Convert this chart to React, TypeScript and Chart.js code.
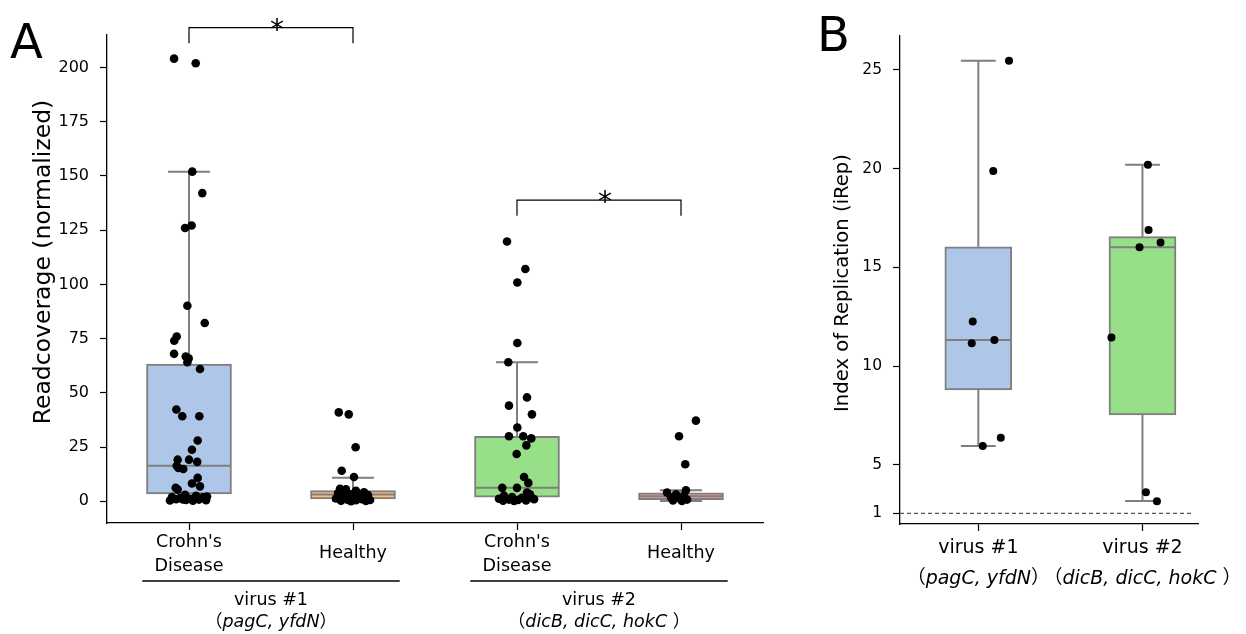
import React, { useEffect, useRef } from 'react';
import { Chart, registerables } from 'chart.js';

Chart.register(...registerables);

const FONT = '"DejaVu Sans", "Noto Sans CJK JP", sans-serif';
const EDGE = '#7f7f7f';

// ================= Panel A data =================
const catLabelsA = [["Crohn's", 'Disease'], ['Healthy'], ["Crohn's", 'Disease'], ['Healthy']];
const groupNamesA = ['virus #1', 'virus #2'];
const groupGenesA = ['pagC, yfdN', 'dicB, dicC, hokC '];
const groupSpansA = [[0, 1], [2, 3]];
const yTicksA = [0, 25, 50, 75, 100, 125, 150, 175, 200];

const whiskerLowA = [0.3, 0.1, 0.2, 0.2];
const q1A = [3.4, 1.1, 1.9, 0.8];
const medianA = [16.4, 3.1, 6.2, 2.3];
const q3A = [63.3, 4.9, 30, 3.9];
const whiskerHighA = [152, 10.9, 64.1, 5.1];

const cd1Values = [204.1, 202, 152, 142.1, 127.2, 126, 90.2, 82.2, 76, 74, 68, 66.8, 65.9, 64.1, 61, 42.3, 39.2, 39.2, 28, 23.8, 19.2, 19.2, 18.2, 16.4, 15.4, 14.9, 10.8, 8.2, 6.9, 6.2, 5.4, 3.0, 2.5, 2.0, 1.8, 1.5, 1.2, 1.0, 0.8, 0.6, 0.5, 0.4, 0.3, 0.9, 2.2];
const cd1Jitter = [-0.091, 0.041, 0.02, 0.081, 0.016, -0.024, -0.01, 0.096, -0.075, -0.09, -0.091, -0.02, -0.002, -0.01, 0.067, -0.077, -0.041, 0.063, 0.053, 0.018, -0.069, 0, 0.05, -0.075, -0.065, -0.035, 0.053, 0.018, 0.067, -0.081, -0.069, -0.024, 0.043, -0.104, 0.085, -0.055, 0.012, -0.079, 0.061, -0.018, 0.104, -0.116, 0.024, -0.037, 0.11];

const h1Values = [41.0, 40.1, 24.9, 14.1, 11.2, 5.8, 5.5, 4.8, 4.2, 3.8, 3.2, 2.9, 2.4, 2.0, 1.7, 1.3, 1.0, 0.8, 0.5, 0.3, 0.2, 0.1, 0.6];
const h1Jitter = [-0.087, -0.026, 0.016, -0.069, 0.006, -0.079, -0.043, 0.018, 0.067, -0.091, -0.018, 0.091, -0.061, 0.037, -0.006, -0.104, 0.055, -0.037, 0.018, -0.073, 0.079, -0.012, 0.104];

const cd2Values = [119.8, 107.1, 100.9, 73, 64.1, 47.9, 44.1, 40.1, 34, 30, 30, 29, 25.8, 21.8, 11.2, 8.5, 6.2, 6.2, 4.0, 3.2, 2.6, 2.0, 1.6, 1.2, 1.0, 0.8, 0.6, 0.4, 0.3, 0.2];
const cd2Jitter = [-0.061, 0.051, 0.002, 0.002, -0.053, 0.061, -0.049, 0.091, 0.002, -0.049, 0.038, 0.087, 0.057, -0.002, 0.043, 0.069, -0.09, 0, 0.061, 0.079, -0.079, -0.03, 0.03, -0.11, 0.104, -0.049, 0.006, 0.055, -0.085, -0.018];

const h2Values = [37.2, 30, 17.1, 5.1, 4.0, 3.2, 2.5, 1.8, 1.2, 0.8, 0.4, 0.2];
const h2Jitter = [0.091, -0.012, 0.026, 0.03, -0.085, -0.03, 0.018, -0.061, -0.006, 0.037, -0.049, 0.006];

const sigLeftA = [0, 2];
const sigRightA = [1, 3];
const sigHeightA = [218.4, 138.9];
const sigDropA = 7.2;
const sigLabelA = ['*', '*'];

// ================= Panel B data =================
const catLabelsB = ['virus #1', 'virus #2'];
const genesB = ['pagC, yfdN', 'dicB, dicC, hokC '];
const yTickValuesB = [2.55, 5, 10, 15, 20, 25];
const yTickLabelsB = ['1', '5', '10', '15', '20', '25'];
const baselineB = 2.55;

const whiskerLowB = [5.96, 3.18];
const q1B = [8.8, 7.53];
const medianB = [11.33, 16.02];
const q3B = [16.05, 16.56];
const whiskerHighB = [25.47, 20.2];

const v1IRep = [25.47, 19.89, 12.26, 11.16, 11.33, 5.96, 6.38];
const v1IRepJitter = [0.187, 0.091, -0.034, -0.04, 0.098, 0.027, 0.137];
const v2IRep = [20.2, 16.9, 16.26, 16.02, 11.45, 3.62, 3.16];
const v2IRepJitter = [0.033, 0.037, 0.11, -0.018, -0.189, 0.021, 0.088];

// ================= styles =================
const boxColorsA = ['#aec7e8', '#ffbb78', '#98df8a', '#ff9896'];
const boxColorsB = ['#aec7e8', '#98df8a'];

function boxLines(lo: number[], q1: number[], med: number[], q3: number[], hi: number[], boxHalf: number, capHalf: number) {
  const pts: any[] = [];
  lo.forEach((_, i) => {
    pts.push(
      { x: i, y: q3[i] }, { x: i, y: hi[i] }, { x: i, y: null },
      { x: i - capHalf, y: hi[i] }, { x: i + capHalf, y: hi[i] }, { x: i, y: null },
      { x: i, y: q1[i] }, { x: i, y: lo[i] }, { x: i, y: null },
      { x: i - capHalf, y: lo[i] }, { x: i + capHalf, y: lo[i] }, { x: i, y: null },
      { x: i - boxHalf, y: med[i] }, { x: i + boxHalf, y: med[i] }, { x: i, y: null },
    );
  });
  return pts;
}

function jittered(index: number, values: number[], jitter: number[]) {
  return values.map((v, k) => ({ x: index + jitter[k], y: v }));
}

function drawGenes(ctx: CanvasRenderingContext2D, cx: number, y: number, genes: string, size: number) {
  const parts = [
    { t: '（', f: `${size}px ${FONT}` },
    { t: genes, f: `italic ${size}px ${FONT}` },
    { t: '）', f: `${size}px ${FONT}` },
  ];
  let total = 0;
  const widths = parts.map((p) => {
    ctx.font = p.f;
    const w = ctx.measureText(p.t).width;
    total += w;
    return w;
  });
  let x = cx - total / 2;
  ctx.textAlign = 'left';
  ctx.textBaseline = 'middle';
  parts.forEach((p, i) => {
    ctx.font = p.f;
    ctx.fillText(p.t, x, y);
    x += widths[i];
  });
}

function axisCommon(tickSize: number) {
  return {
    grid: { display: true, offset: false, drawOnChartArea: false, drawTicks: true, tickLength: 7, tickColor: '#000', tickWidth: 1.2 },
    border: { display: true, color: '#000', width: 1.3 },
    ticks: { color: '#000', font: { family: FONT, size: tickSize }, padding: 11 },
  };
}

function PanelA() {
  const ref = useRef<HTMLCanvasElement>(null);
  useEffect(() => {
    const boxHalf = 0.256;
    const capHalf = 0.128;
    const brackets: any[] = [];
    sigLeftA.forEach((l, i) => {
      const r = sigRightA[i];
      const h = sigHeightA[i];
      brackets.push({ x: l, y: h - sigDropA }, { x: l, y: h }, { x: r, y: h }, { x: r, y: h - sigDropA }, { x: r, y: null });
    });
    const labelPlugin = {
      id: 'labelsA',
      afterDraw(chart: any) {
        const ctx = chart.ctx as CanvasRenderingContext2D;
        const xs = chart.scales.x;
        const ys = chart.scales.y;
        ctx.save();
        ctx.fillStyle = '#000';
        ctx.font = `48px ${FONT}`;
        ctx.textAlign = 'left';
        ctx.textBaseline = 'alphabetic';
        ctx.fillText('A', 10, 58);
        ctx.save();
        ctx.translate(44, 262);
        ctx.rotate(-Math.PI / 2);
        ctx.font = `23.5px ${FONT}`;
        ctx.textAlign = 'center';
        ctx.textBaseline = 'middle';
        ctx.fillText('Readcoverage (normalized)', 0, 0);
        ctx.restore();
        ctx.font = `17.5px ${FONT}`;
        ctx.textAlign = 'center';
        ctx.textBaseline = 'middle';
        catLabelsA.forEach((lines, i) => {
          const cx = xs.getPixelForValue(i);
          if (lines.length === 2) {
            ctx.fillText(lines[0], cx, 542);
            ctx.fillText(lines[1], cx, 566);
          } else {
            ctx.fillText(lines[0], cx, 553);
          }
        });
        groupSpansA.forEach((span, g) => {
          const x0 = xs.getPixelForValue(span[0] - 0.285);
          const x1 = xs.getPixelForValue(span[1] + 0.285);
          ctx.strokeStyle = '#000';
          ctx.lineWidth = 1.3;
          ctx.beginPath();
          ctx.moveTo(x0, 581);
          ctx.lineTo(x1, 581);
          ctx.stroke();
          const cx = xs.getPixelForValue((span[0] + span[1]) / 2);
          ctx.font = `17.5px ${FONT}`;
          ctx.textAlign = 'center';
          ctx.textBaseline = 'middle';
          ctx.fillText(groupNamesA[g], cx, 600);
          drawGenes(ctx, cx, 622, groupGenesA[g], 17.5);
        });
        ctx.font = `28px ${FONT}`;
        ctx.textAlign = 'center';
        ctx.textBaseline = 'alphabetic';
        sigLeftA.forEach((l, i) => {
          const cx = xs.getPixelForValue((l + sigRightA[i]) / 2);
          const cy = ys.getPixelForValue(sigHeightA[i]);
          ctx.fillText(sigLabelA[i], cx + 6, cy + 11);
        });
        ctx.restore();
      },
    };
    const chart = new Chart(ref.current!, {
      type: 'bar',
      data: {
        datasets: [
          {
            type: 'scatter',
            data: [
              ...jittered(0, cd1Values, cd1Jitter),
              ...jittered(1, h1Values, h1Jitter),
              ...jittered(2, cd2Values, cd2Jitter),
              ...jittered(3, h2Values, h2Jitter),
            ],
            backgroundColor: '#000',
            borderWidth: 0,
            pointRadius: 4.3,
            order: 0,
          } as any,
          {
            type: 'line',
            data: boxLines(whiskerLowA, q1A, medianA, q3A, whiskerHighA, boxHalf, capHalf),
            borderColor: EDGE,
            borderWidth: 2,
            pointRadius: 0,
            spanGaps: false,
            tension: 0,
            order: 1,
          } as any,
          {
            type: 'line',
            data: brackets,
            borderColor: '#000',
            borderWidth: 1.2,
            pointRadius: 0,
            spanGaps: false,
            clip: false,
            order: 1,
          } as any,
          {
            type: 'bar',
            data: q1A.map((q, i) => ({ x: i, y: [q, q3A[i]] })),
            backgroundColor: boxColorsA,
            borderColor: EDGE,
            borderWidth: 2,
            borderSkipped: false,
            barThickness: 85,
            grouped: false,
            order: 2,
          } as any,
        ],
      },
      options: {
        animation: false,
        responsive: false,
        layout: { padding: { top: 35, right: 37, left: 0, bottom: 0 } },
        plugins: { legend: { display: false }, tooltip: { enabled: false } },
        scales: {
          x: {
            type: 'linear',
            min: -0.5,
            max: 3.5,
            offset: false,
            ...axisCommon(16),
            ticks: { ...axisCommon(16).ticks, callback: () => '' },
            afterBuildTicks: (s: any) => { s.ticks = catLabelsA.map((_, i) => ({ value: i })); },
            afterFit: (s: any) => { s.height = 111; },
          },
          y: {
            type: 'linear',
            min: -10,
            max: 215,
            ...axisCommon(16),
            ticks: { ...axisCommon(16).ticks, callback: (v: any) => String(v) },
            afterBuildTicks: (s: any) => { s.ticks = yTicksA.map((v) => ({ value: v })); },
            afterFit: (s: any) => { s.width = 107; },
          },
        } as any,
      },
      plugins: [labelPlugin],
    });
    return () => chart.destroy();
  }, []);
  return <canvas ref={ref} width={800} height={634} style={{ position: 'absolute', left: 0, top: 0, width: 800, height: 634 }} />;
}

function PanelB() {
  const ref = useRef<HTMLCanvasElement>(null);
  useEffect(() => {
    const boxHalf = 0.201;
    const capHalf = 0.106;
    const xMin = -0.477;
    const xMax = 1.34;
    const labelPlugin = {
      id: 'labelsB',
      afterDraw(chart: any) {
        const ctx = chart.ctx as CanvasRenderingContext2D;
        const xs = chart.scales.x;
        ctx.save();
        ctx.fillStyle = '#000';
        ctx.font = `48px ${FONT}`;
        ctx.textAlign = 'left';
        ctx.textBaseline = 'alphabetic';
        ctx.fillText('B', 17, 51);
        ctx.save();
        ctx.translate(42.5, 283);
        ctx.rotate(-Math.PI / 2);
        ctx.font = `19.6px ${FONT}`;
        ctx.textAlign = 'center';
        ctx.textBaseline = 'middle';
        ctx.fillText('Index of Replication (iRep)', 0, 0);
        ctx.restore();
        catLabelsB.forEach((lab, i) => {
          const cx = xs.getPixelForValue(i);
          ctx.font = `19px ${FONT}`;
          ctx.textAlign = 'center';
          ctx.textBaseline = 'middle';
          ctx.fillText(lab, cx, 548);
          drawGenes(ctx, cx, 579, genesB[i], 19);
        });
        ctx.restore();
      },
    };
    const chart = new Chart(ref.current!, {
      type: 'bar',
      data: {
        datasets: [
          {
            type: 'scatter',
            data: [...jittered(0, v1IRep, v1IRepJitter), ...jittered(1, v2IRep, v2IRepJitter)],
            backgroundColor: '#000',
            borderWidth: 0,
            pointRadius: 4,
            order: 0,
          } as any,
          {
            type: 'line',
            data: boxLines(whiskerLowB, q1B, medianB, q3B, whiskerHighB, boxHalf, capHalf),
            borderColor: EDGE,
            borderWidth: 2,
            pointRadius: 0,
            spanGaps: false,
            tension: 0,
            order: 1,
          } as any,
          {
            type: 'line',
            data: [{ x: xMin, y: baselineB }, { x: 1.307, y: baselineB }],
            borderColor: '#555',
            borderWidth: 1.2,
            borderDash: [4, 3],
            pointRadius: 0,
            order: 3,
          } as any,
          {
            type: 'bar',
            data: q1B.map((q, i) => ({ x: i, y: [q, q3B[i]] })),
            backgroundColor: boxColorsB,
            borderColor: EDGE,
            borderWidth: 2,
            borderSkipped: false,
            barThickness: 67,
            grouped: false,
            order: 2,
          } as any,
        ],
      },
      options: {
        animation: false,
        responsive: false,
        layout: { padding: { top: 36, right: 47.7, left: 0, bottom: 0 } },
        plugins: { legend: { display: false }, tooltip: { enabled: false } },
        scales: {
          x: {
            type: 'linear',
            min: xMin,
            max: xMax,
            offset: false,
            ...axisCommon(15.5),
            ticks: { ...axisCommon(15.5).ticks, callback: () => '' },
            afterBuildTicks: (s: any) => { s.ticks = catLabelsB.map((_, i) => ({ value: i })); },
            afterFit: (s: any) => { s.height = 110; },
          },
          y: {
            type: 'linear',
            min: 2.01,
            max: 26.72,
            ...axisCommon(15.5),
            ticks: {
              ...axisCommon(15.5).ticks,
              callback: (v: any) => {
                const k = yTickValuesB.indexOf(v);
                return k >= 0 ? yTickLabelsB[k] : '';
              },
            },
            afterBuildTicks: (s: any) => { s.ticks = yTickValuesB.map((v) => ({ value: v })); },
            afterFit: (s: any) => { s.width = 100; },
          },
        } as any,
      },
      plugins: [labelPlugin],
    });
    return () => chart.destroy();
  }, []);
  return <canvas ref={ref} width={446} height={634} style={{ position: 'absolute', left: 800, top: 0, width: 446, height: 634 }} />;
}

export default function App() {
  return (
    <div style={{ position: 'absolute', left: 0, top: 0, width: 1246, height: 634, background: '#fff', overflow: 'hidden' }}>
      <PanelA />
      <PanelB />
    </div>
  );
}
